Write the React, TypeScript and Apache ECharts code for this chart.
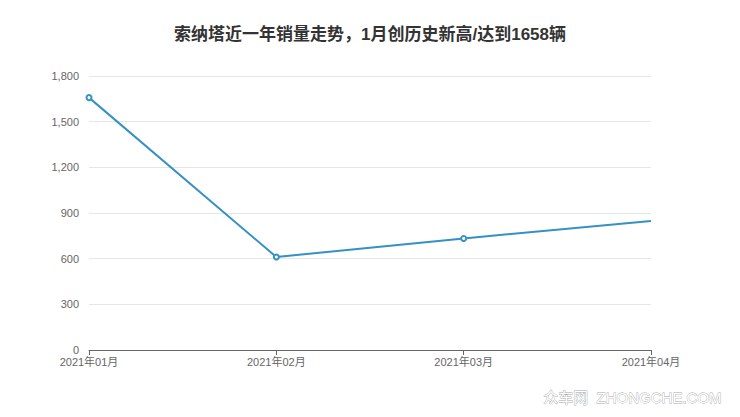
import React, { useEffect, useRef } from "react";
import * as echarts from 'echarts';

const months = ['2021年01月', '2021年02月', '2021年03月', '2021年04月'];
const sales = [1658, 611, 733, 848];
const titleText = '索纳塔近一年销量走势，1月创历史新高/达到1658辆';

const App: React.FC = () => {
    const chartRef = useRef<any>(null);

    useEffect(() => {
        const chart = echarts.init(chartRef.current, null, { renderer: 'svg' });
        const font = '"Liberation Sans", Arial, "Noto Sans CJK SC", sans-serif';
        chart.setOption({
            animation: false,
            title: {
                text: titleText,
                left: 'center',
                top: 21,
                textStyle: { fontSize: 17, fontWeight: 'bold', color: '#333', fontFamily: font },
            },
            grid: { left: 89, right: 89, top: 76, bottom: 67 },
            xAxis: {
                type: 'category',
                data: months,
                boundaryGap: false,
                axisLine: { lineStyle: { color: '#666' } },
                axisTick: { alignWithLabel: true, lineStyle: { color: '#666' } },
                axisLabel: { color: '#666', fontSize: 11, fontFamily: font, margin: 6 },
            },
            yAxis: {
                type: 'value',
                min: 0,
                max: 1800,
                interval: 300,
                axisLine: { show: false },
                axisTick: { show: false },
                axisLabel: { color: '#666', fontSize: 11, fontFamily: font, margin: 10 },
                splitLine: { lineStyle: { color: '#e6e6e6' } },
            },
            graphic: [
                {
                    type: 'text',
                    right: 18,
                    top: 390,
                    style: {
                        text: '众车网  ZHONGCHE.COM',
                        fill: '#fff',
                        stroke: '#aaa',
                        lineWidth: 0.8,
                        font: '15px "Liberation Sans", "Noto Sans CJK SC", sans-serif',
                    },
                },
            ],
            series: [
                {
                    type: 'line',
                    data: sales.map((v, i) => i === sales.length - 1 ? { value: v, symbol: 'none' } : v),
                    symbol: 'emptyCircle',
                    symbolSize: 5,
                    showAllSymbol: true,
                    lineStyle: { color: '#3590c4', width: 2 },
                    itemStyle: { color: '#3590c4', borderWidth: 1.5 },
                },
            ],
        });
        return () => {
            chart.dispose();
        };
    }, []);

    return (
        <div ref={chartRef} style={{ position: 'fixed', left: 0, top: 0, width: 740, height: 417, background: '#fff' }}></div>
    );
};

export default App;
